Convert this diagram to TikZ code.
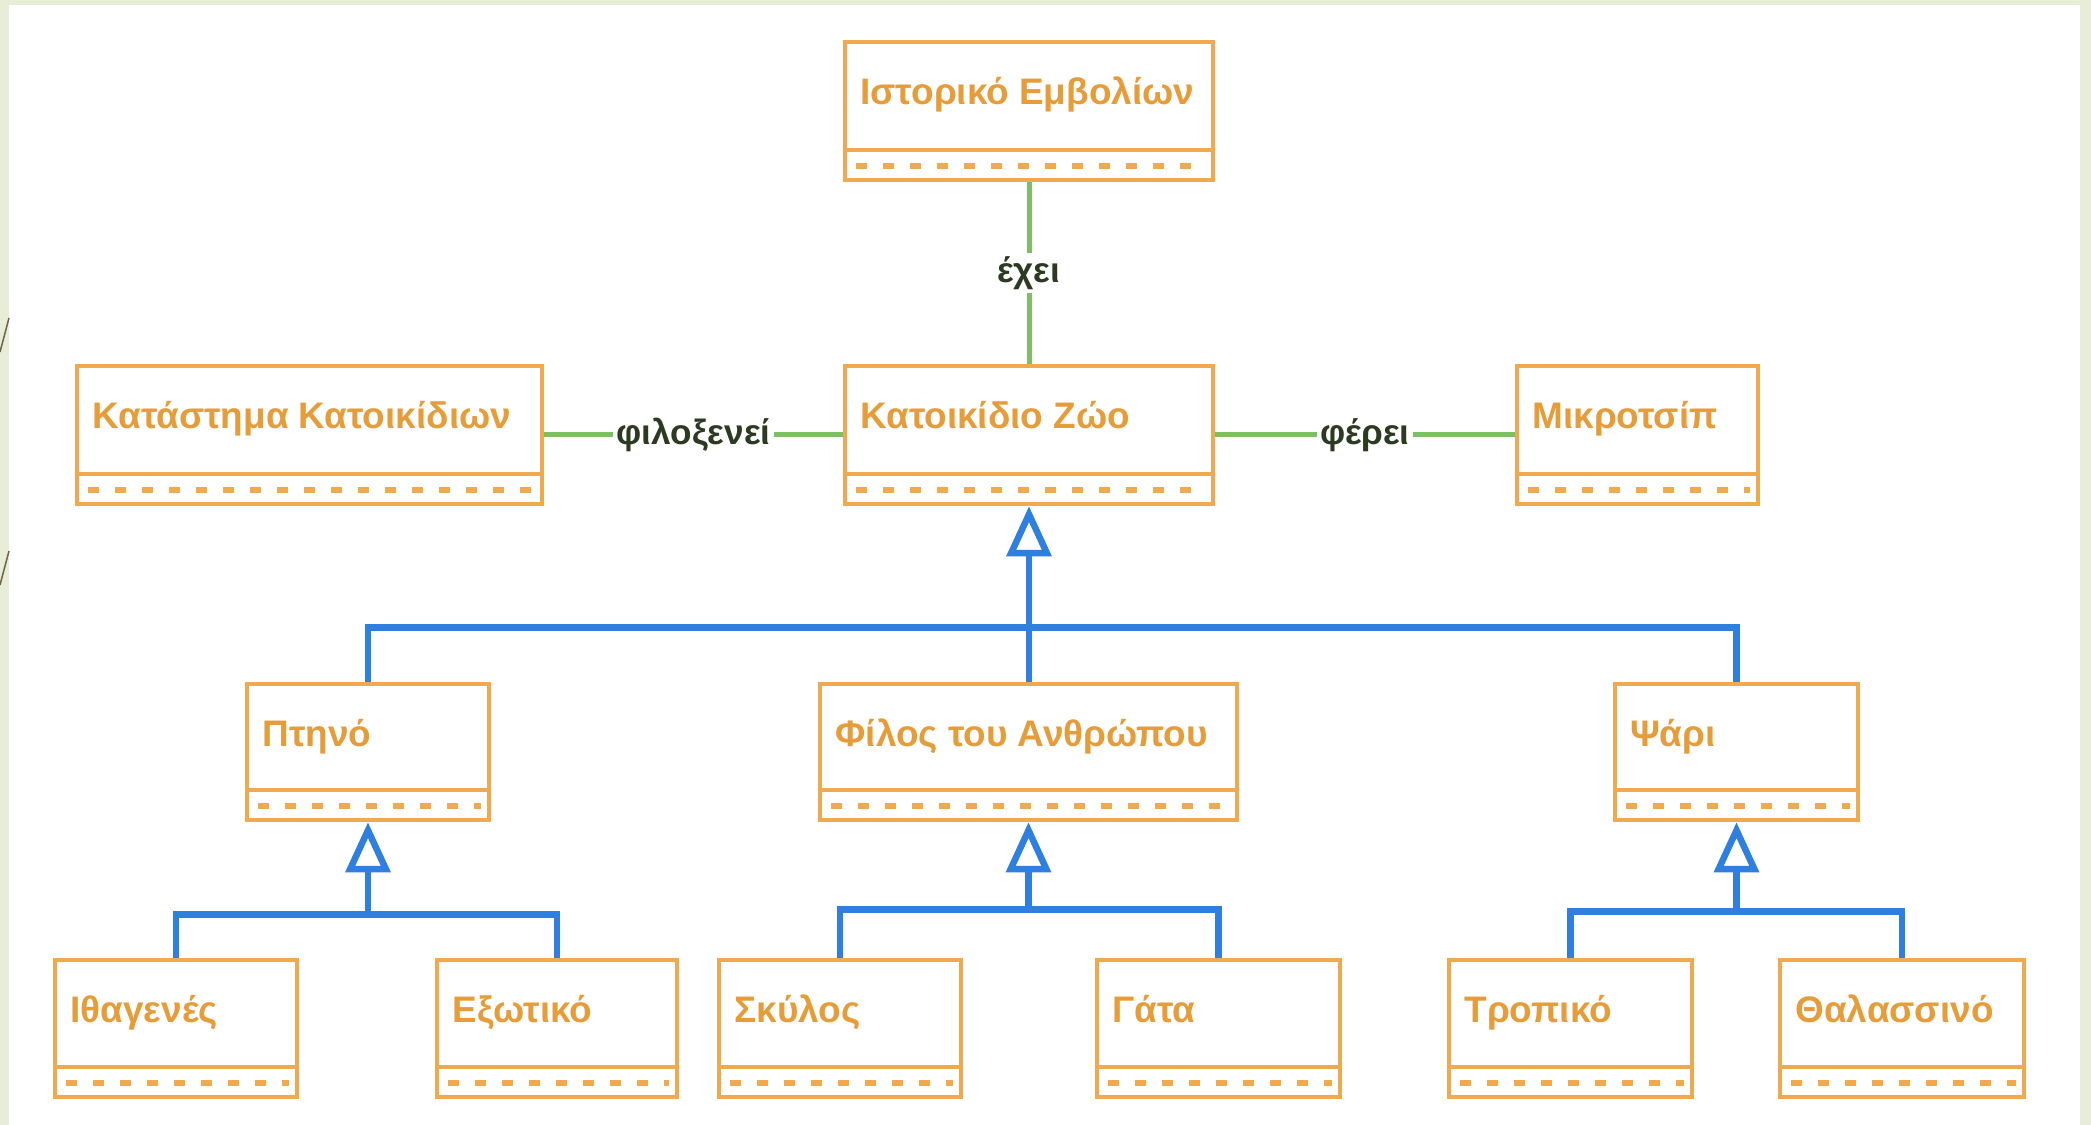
\documentclass[tikz,border=0pt]{standalone}
\usepackage{fontspec}
\setmainfont{Liberation Sans}
\usetikzlibrary{arrows.meta,fit}

\definecolor{pagegreen}{HTML}{E7EDD6}
\definecolor{boxorange}{HTML}{F0A94F}
\definecolor{textorange}{HTML}{E79C3A}
\definecolor{assocgreen}{HTML}{7DBF63}
\definecolor{assoctext}{HTML}{2C3A22}
\definecolor{genblue}{HTML}{2F7FE0}
\definecolor{slideline}{HTML}{6E6446}

\tikzset{
  cls/.style={draw=boxorange, line width=0.045cm, fill=white, inner sep=0pt, rectangle},
  divline/.style={draw=boxorange, line width=0.045cm},
  dashrow/.style={draw=boxorange, line width=0.055cm, dash pattern=on 0.11cm off 0.16cm, dash phase=-0.03cm},
  clstext/.style={text=textorange, font=\fontsize{10.5}{12}\selectfont\bfseries, inner sep=0pt, anchor=base west},
  assoc/.style={draw=assocgreen, line width=0.05cm},
  assoclbl/.style={fill=white, text=assoctext, font=\fontsize{10}{12}\selectfont\bfseries, inner sep=1pt},
  gen/.style={draw=genblue, line width=0.065cm},
  inh/.style={gen, -{Triangle[open, length=0.5cm, width=0.44cm]}},
}

% class box: name, left, top, right, bottom, title
\newcommand{\classbox}[6]{%
  \node[cls, fit={(#2,#3) (#4,#5)}] (#1) {};
  \draw[divline] ([yshift=0.32cm]#1.south west) -- ([yshift=0.32cm]#1.south east);
  \draw[dashrow] ([xshift=0.1cm,yshift=0.16cm]#1.south west) -- ([xshift=-0.1cm,yshift=0.16cm]#1.south east);
  \node[clstext] (#1-t) at ([xshift=0.17cm,yshift=-0.65cm]#1.north west) {#6};
}

\begin{document}
\begin{tikzpicture}[x=0.01cm, y=-0.01cm]
\useasboundingbox (0,0) rectangle (2091,1125);
% slide background
\fill[pagegreen] (0,0) rectangle (2091,1125);
\fill[white] (9,5) rectangle (2080,1125);
\draw[slideline, line width=0.015cm] (0,352) -- (9,318);
\draw[slideline, line width=0.015cm] (0,585) -- (9,551);

% classes
\classbox{hist}{845}{42}{1213}{180}{Ιστορικό Εμβολίων}
\classbox{kat}{77}{366}{542}{504}{Κατάστημα Κατοικίδιων}
\classbox{zoo}{845}{366}{1213}{504}{Κατοικίδιο Ζώο}
\classbox{chip}{1517}{366}{1758}{504}{Μικροτσίπ}
\classbox{ptino}{247}{684}{489}{820}{Πτηνό}
\classbox{filos}{820}{684}{1237}{820}{Φίλος του Ανθρώπου}
\classbox{psari}{1615}{684}{1858}{820}{Ψάρι}
\classbox{ithag}{55}{960}{297}{1097}{Ιθαγενές}
\classbox{exot}{437}{960}{677}{1097}{Εξωτικό}
\classbox{skylos}{719}{960}{961}{1097}{Σκύλος}
\classbox{gata}{1097}{960}{1340}{1097}{Γάτα}
\classbox{trop}{1449}{960}{1692}{1097}{Τροπικό}
\classbox{thal}{1780}{960}{2024}{1097}{Θαλασσινό}

% associations
\draw[assoc] (hist) -- node[assoclbl] (l-exei) {έχει} (zoo);
\draw[assoc] (kat) -- node[assoclbl] (l-filox) {φιλοξενεί} (zoo);
\draw[assoc] (zoo) -- node[assoclbl] (l-ferei) {φέρει} (chip);

% generalisations
\path (zoo.south) ++(0,121) coordinate (j1);
\path (ptino.south) ++(0,92) coordinate (j2);
\path (filos.south) ++(0,87) coordinate (j3);
\path (psari.south) ++(0,89) coordinate (j4);

\draw[gen] (ptino) |- (j1) -| (psari);
\draw[gen] (filos.north -| j1) -- (j1);
\draw[inh] (j1) -- (zoo);

\draw[gen] (ithag) |- (j2) -| (exot);
\draw[inh] (j2) -- (ptino);

\draw[gen] (skylos) |- (j3) -| (gata);
\draw[inh] (j3) -- (filos);

\draw[gen] (trop) |- (j4) -| (thal);
\draw[inh] (j4) -- (psari);
\end{tikzpicture}
\end{document}
